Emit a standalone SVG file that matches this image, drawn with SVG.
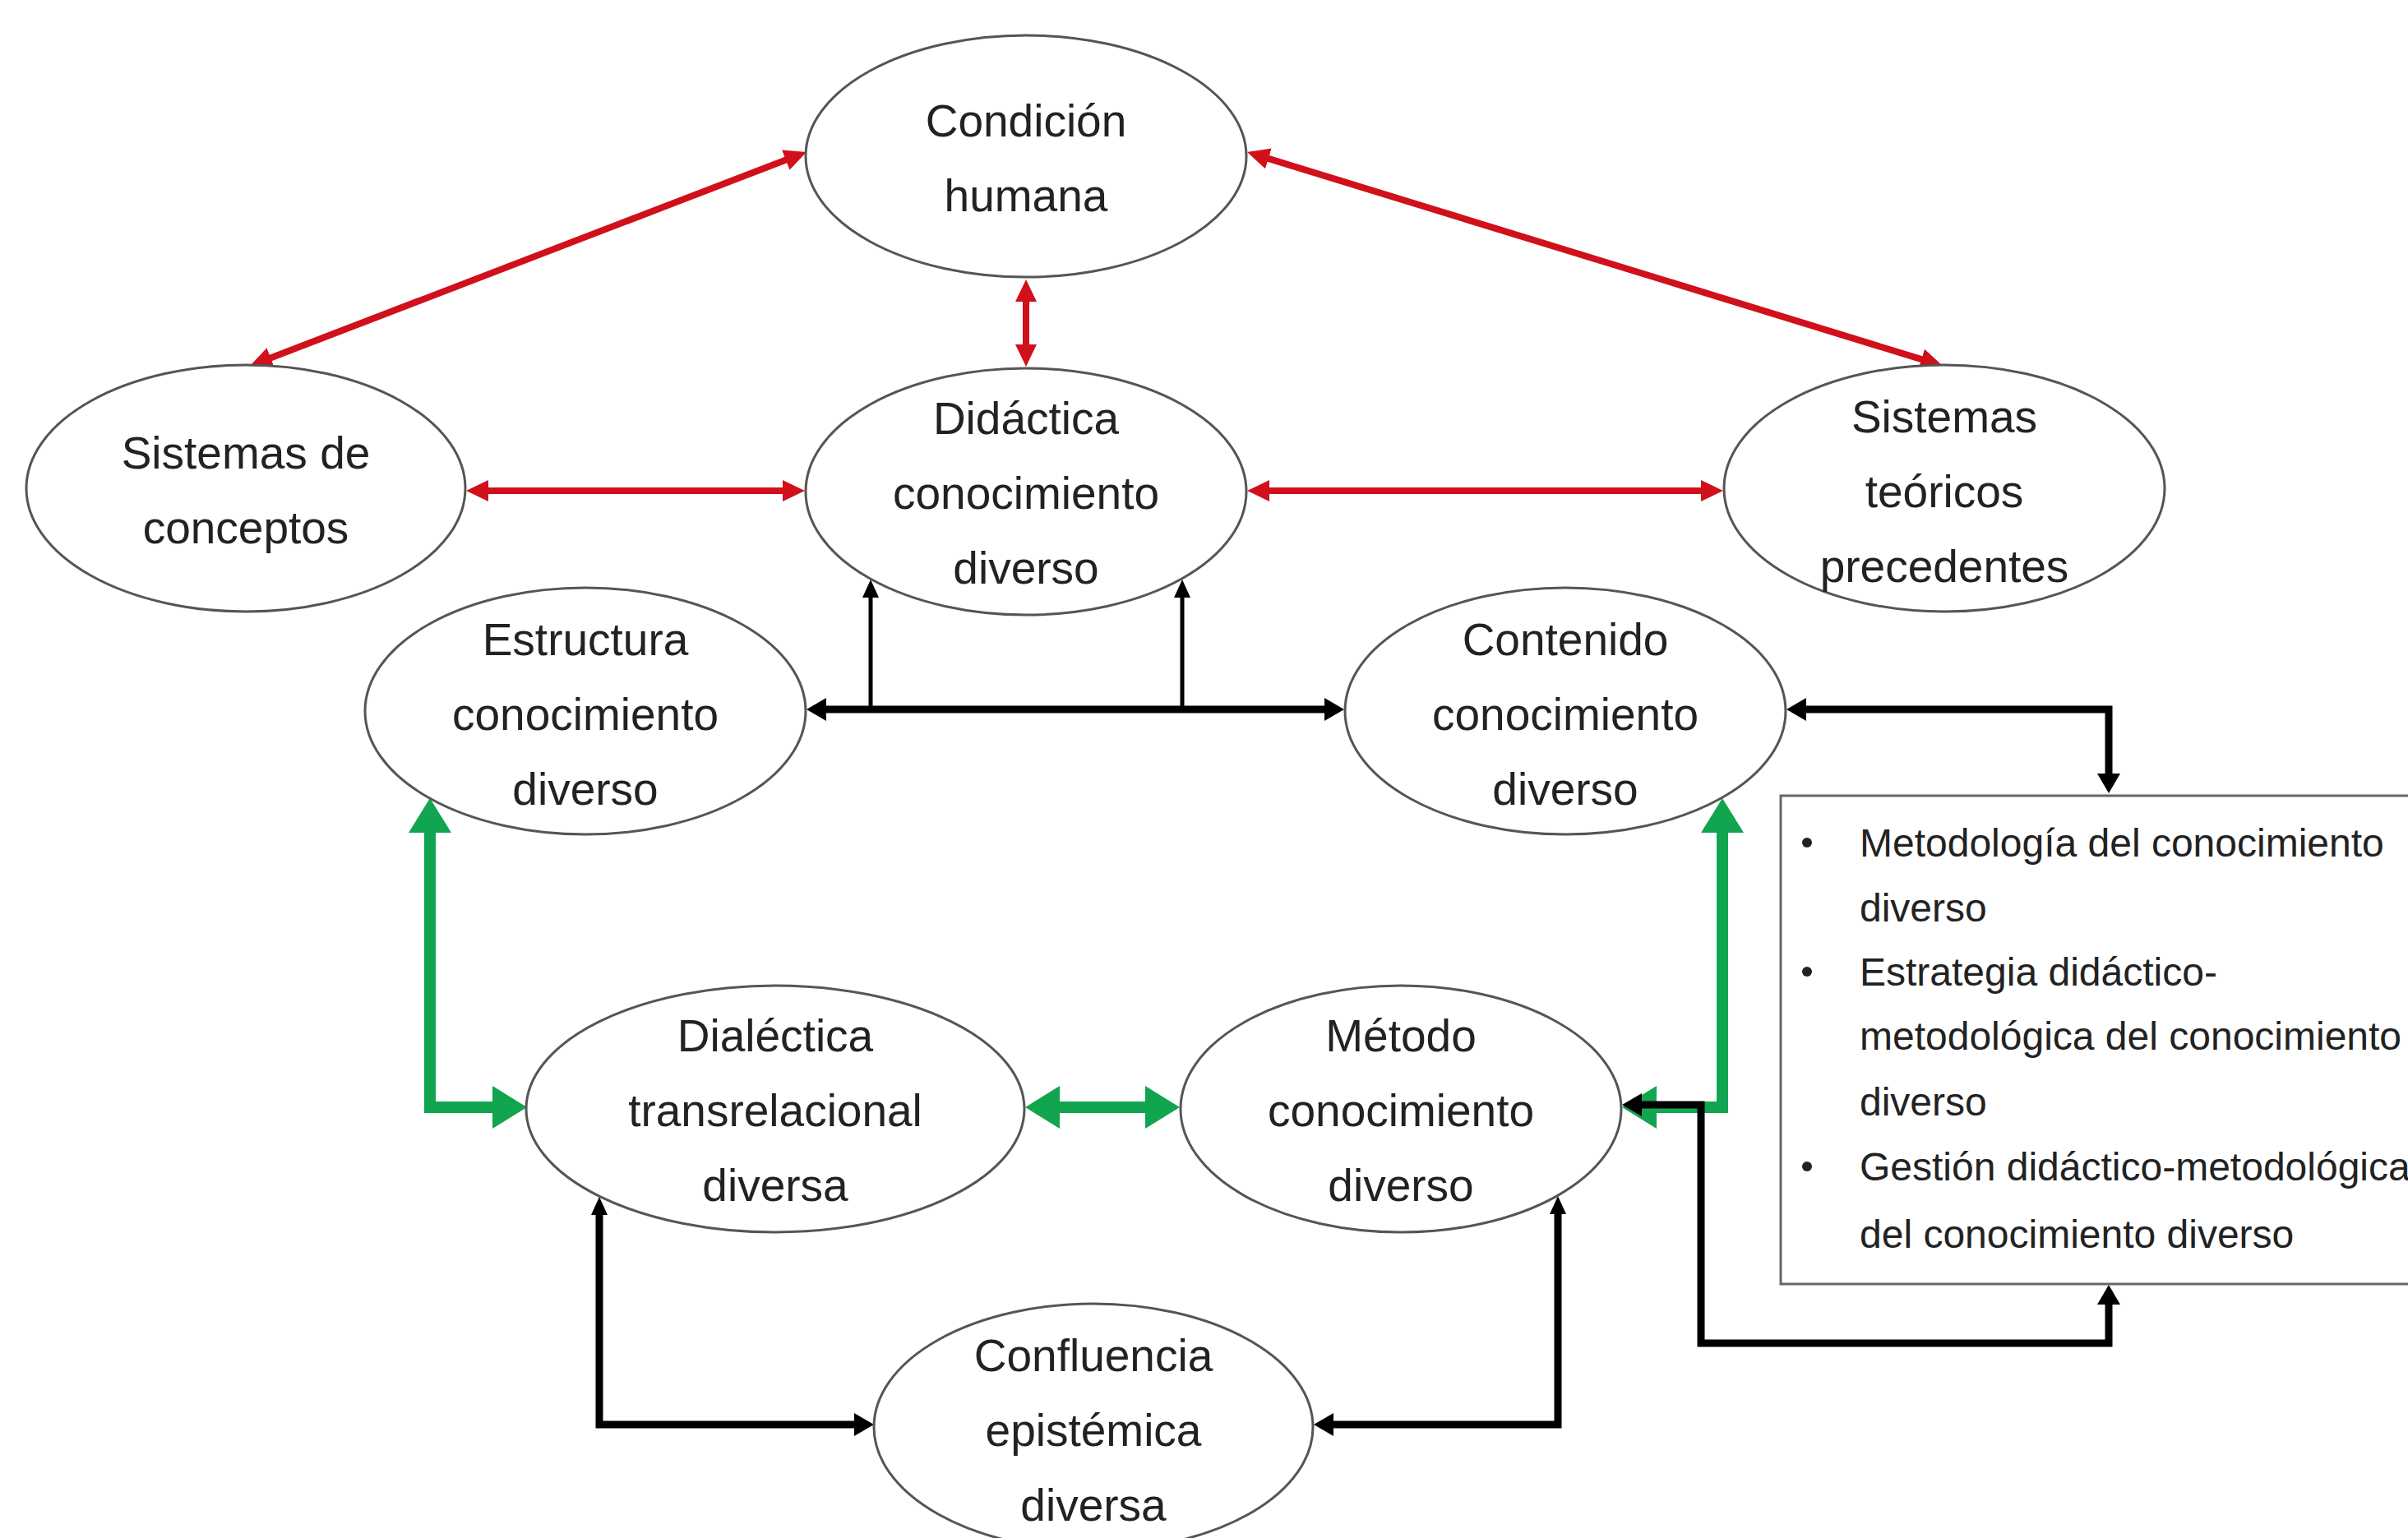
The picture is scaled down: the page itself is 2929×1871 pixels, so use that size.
<svg xmlns="http://www.w3.org/2000/svg" width="2929" height="1871" viewBox="0 0 2929 1871">
<defs>
<style>
.node ellipse{fill:#fff;stroke:#555;stroke-width:3}
.lbl{font-family:"Liberation Sans",Arial,sans-serif;font-size:55px;fill:#222;text-anchor:middle}
.box{font-family:"Liberation Sans",Arial,sans-serif;font-size:48px;fill:#222}
.red{stroke:#d0101a;stroke-width:8;fill:none}
.blk{stroke:#000;stroke-width:9;fill:none}
.blkt{stroke:#000;stroke-width:5;fill:none}
.grn{stroke:#12a550;stroke-width:14;fill:none}
</style>
<marker id="hr" markerUnits="userSpaceOnUse" viewBox="0 0 27 26" markerWidth="27" markerHeight="26" refX="1" refY="13" orient="auto-start-reverse"><path d="M0,0 L27,13 L0,26 z" fill="#d0101a"/></marker>
<marker id="hb" markerUnits="userSpaceOnUse" viewBox="0 0 24 28" markerWidth="24" markerHeight="28" refX="1" refY="14" orient="auto-start-reverse"><path d="M0,0 L24,14 L0,28 z" fill="#000"/></marker>
<marker id="hs" markerUnits="userSpaceOnUse" viewBox="0 0 22 20" markerWidth="22" markerHeight="20" refX="1" refY="10" orient="auto-start-reverse"><path d="M0,0 L22,10 L0,20 z" fill="#000"/></marker>
<marker id="hg" markerUnits="userSpaceOnUse" viewBox="0 0 42 52" markerWidth="42" markerHeight="52" refX="1" refY="26" orient="auto-start-reverse"><path d="M0,0 L42,26 L0,52 z" fill="#12a550"/></marker>
</defs>
<rect width="2929" height="1871" fill="#fff"/>

<g id="connectors">
<line class="red" x1="956.7" y1="194.3" x2="328.3" y2="435.7" marker-start="url(#hr)" marker-end="url(#hr)"/>
<line class="red" x1="1541.9" y1="192.6" x2="2338.1" y2="437.4" marker-start="url(#hr)" marker-end="url(#hr)"/>
<line class="red" x1="1248" y1="366" x2="1248" y2="420" marker-start="url(#hr)" marker-end="url(#hr)"/>
<line class="red" x1="593" y1="597" x2="953" y2="597" marker-start="url(#hr)" marker-end="url(#hr)"/>
<line class="red" x1="1543" y1="597" x2="2070" y2="597" marker-start="url(#hr)" marker-end="url(#hr)"/>

<line class="blk" x1="1004" y1="863" x2="1612" y2="863" marker-start="url(#hb)" marker-end="url(#hb)"/>
<line class="blkt" x1="1059" y1="865" x2="1059" y2="726" marker-end="url(#hs)"/>
<line class="blkt" x1="1438" y1="865" x2="1438" y2="726" marker-end="url(#hs)"/>
<path class="blk" d="M2196,863 H2565 V942" marker-start="url(#hb)" marker-end="url(#hb)"/>

<path class="grn" d="M523,1012 V1347 H600" marker-start="url(#hg)" marker-end="url(#hg)"/>
<line class="grn" x1="1288" y1="1347" x2="1394" y2="1347" marker-start="url(#hg)" marker-end="url(#hg)"/>
<path class="grn" d="M2095,1012 V1347 H2014" marker-start="url(#hg)" marker-end="url(#hg)"/>

<path class="blk" d="M1996,1344 H2069 V1634 H2565 V1586" marker-start="url(#hb)" marker-end="url(#hb)"/>
<path class="blk" d="M729,1477 V1733 H1040" marker-start="url(#hs)" marker-end="url(#hb)"/>
<path class="blk" d="M1895,1476 V1733 H1621" marker-start="url(#hs)" marker-end="url(#hb)"/>
</g>

<g id="n-condicion" class="node"><ellipse cx="1248" cy="190" rx="268" ry="147"/>
<text class="lbl" x="1248" y="166">Condición</text><text class="lbl" x="1248" y="257">humana</text></g>

<g id="n-didactica" class="node"><ellipse cx="1248" cy="598" rx="268" ry="150"/>
<text class="lbl" x="1248" y="528">Didáctica</text><text class="lbl" x="1248" y="619">conocimiento</text><text class="lbl" x="1248" y="710">diverso</text></g>

<g id="n-sistemas-conceptos" class="node"><ellipse cx="299" cy="594" rx="267" ry="150"/>
<text class="lbl" x="299" y="570">Sistemas de</text><text class="lbl" x="299" y="661">conceptos</text></g>

<g id="n-sistemas-teoricos" class="node"><ellipse cx="2365" cy="594" rx="268" ry="150"/>
<text class="lbl" x="2365" y="526">Sistemas</text><text class="lbl" x="2365" y="617">teóricos</text><text class="lbl" x="2365" y="708">precedentes</text></g>

<g id="n-estructura" class="node"><ellipse cx="712" cy="865" rx="268" ry="150"/>
<text class="lbl" x="712" y="797">Estructura</text><text class="lbl" x="712" y="888">conocimiento</text><text class="lbl" x="712" y="979">diverso</text></g>

<g id="n-contenido" class="node"><ellipse cx="1904" cy="865" rx="268" ry="150"/>
<text class="lbl" x="1904" y="797">Contenido</text><text class="lbl" x="1904" y="888">conocimiento</text><text class="lbl" x="1904" y="979">diverso</text></g>

<g id="n-dialectica" class="node"><ellipse cx="943" cy="1349" rx="303" ry="150"/>
<text class="lbl" x="943" y="1279">Dialéctica</text><text class="lbl" x="943" y="1370">transrelacional</text><text class="lbl" x="943" y="1461">diversa</text></g>

<g id="n-metodo" class="node"><ellipse cx="1704" cy="1349" rx="268" ry="150"/>
<text class="lbl" x="1704" y="1279">Método</text><text class="lbl" x="1704" y="1370">conocimiento</text><text class="lbl" x="1704" y="1461">diverso</text></g>

<g id="n-confluencia" class="node"><ellipse cx="1330" cy="1736" rx="267" ry="150"/>
<text class="lbl" x="1330" y="1668">Confluencia</text><text class="lbl" x="1330" y="1759">epistémica</text><text class="lbl" x="1330" y="1850">diversa</text></g>

<g id="n-box">
<rect x="2166" y="968" width="800" height="594" fill="#fff" stroke="#666" stroke-width="3"/>
<g fill="#222"><circle cx="2198" cy="1025" r="6"/><circle cx="2198" cy="1182" r="6"/><circle cx="2198" cy="1419" r="6"/></g>
<text class="box" x="2262" y="1042">Metodología del conocimiento</text>
<text class="box" x="2262" y="1121">diverso</text>
<text class="box" x="2262" y="1199">Estrategia didáctico-</text>
<text class="box" x="2262" y="1277">metodológica del conocimiento</text>
<text class="box" x="2262" y="1357">diverso</text>
<text class="box" x="2262" y="1436">Gestión didáctico-metodológica</text>
<text class="box" x="2262" y="1518">del conocimiento diverso</text>
</g>
</svg>
